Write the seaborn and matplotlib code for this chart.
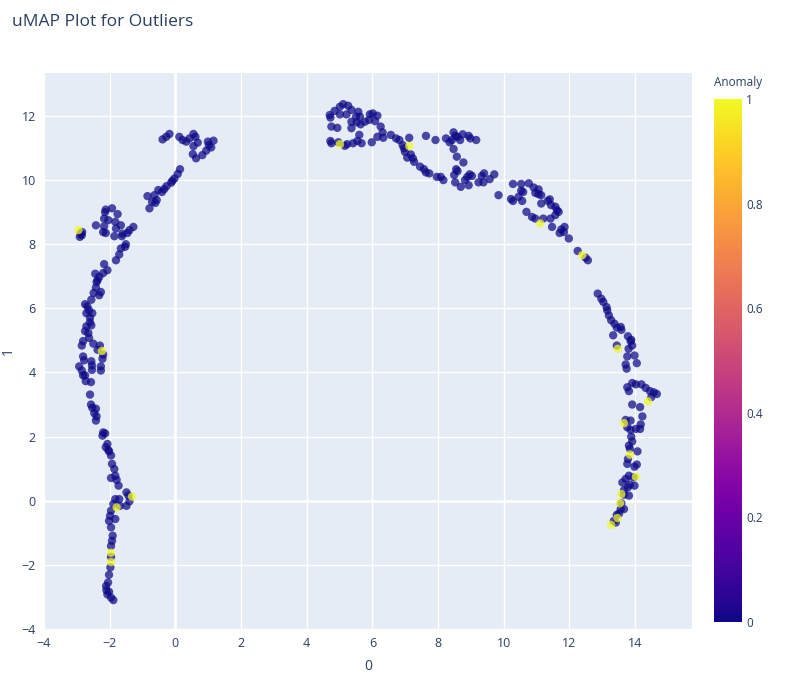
import numpy as np
import pandas as pd
import matplotlib
matplotlib.use("Agg")
import matplotlib.pyplot as plt
import seaborn as sns

sns.set_theme(style="darkgrid")
plt.rcParams['font.family'] = ['Open Sans', 'DejaVu Sans']

# uMAP embedding, normal points (Anomaly = 0)
normal_x = [
    -0.39, -0.28, -0.18, 0.12, 0.22, 0.33, 0.43, 0.55, 0.61, 0.68, 0.55, 0.53, 0.63, 0.82, 0.94, 1.02, 1.09, 1.16, 0.99,
    0.14, 0.07, -0.03, -0.13, -0.27, -0.41, -0.52, -0.64, -0.85, -0.71, -0.57, -0.79, -0.61, -0.34, -0.09,
    -2.12, -1.93, -1.76, -2.17, -2.04, -1.83, -2.42, -2.17, -1.66, -1.28, -1.81, -2.20, -2.12, -1.86, -1.61, -1.40, -1.46, -1.63, -2.14,
    -2.88, -2.85, -2.91, -2.84,
    -1.51, -1.53, -1.66, -1.71, -1.81, -2.17, -2.07, -2.20, -2.44, -2.32, -2.37, -2.42,
    -2.40, -2.49, -2.27, -2.32, -2.56, -2.75, -2.68, -2.63, -2.71, -2.53, -2.60, -2.60, -2.56, -2.71, -2.75, -2.65,
    -2.63, -2.81, -2.85, -2.50, -2.30, -2.37, -2.20, -2.22, -2.81, -2.78, -2.56, -2.54, -2.54, -2.27, -2.27, -2.93,
    -2.85, -2.81, -2.75, -2.73, -2.57, -2.60, -2.57, -2.53, -2.42, -2.47, -2.40, -2.42, -2.20, -2.14, -2.22, -2.07,
    -2.12, -2.04, -2.02, -1.96, -1.93, -1.86, -1.96, -1.83, -1.79, -1.73, -1.49, -1.43, -1.40, -1.49, -1.83, -1.71,
    -1.89, -1.69, -1.96, -1.99, -1.83, -2.02, -1.96, -1.91, -1.93, -1.96, -1.96, -1.98, -2.02, -2.05, -2.10, -2.07,
    -1.96, -1.89, -2.11, -2.02,
    4.70, 4.72, 4.85, 5.01, 5.11, 5.26, 5.36, 5.01, 5.21, 4.75, 4.93, 5.36, 5.36, 5.50, 5.57, 5.62, 5.52, 5.64,
    5.77, 5.90, 6.01, 6.08, 6.15, 5.92, 6.25, 6.31, 6.33, 6.15, 5.98, 5.60, 5.67, 5.54, 5.41, 5.23, 5.16, 4.96,
    4.72, 4.75, 6.56, 6.72, 6.82, 7.12, 6.92, 6.96, 6.99, 7.17, 7.06, 7.23, 7.27, 7.45, 7.57, 7.63, 7.73, 7.96,
    8.08, 8.16, 7.63, 7.92, 8.24, 8.35, 8.42, 8.47, 8.52, 8.59, 8.75, 8.93, 8.98, 9.16, 8.67, 8.47, 8.57, 8.77,
    8.55, 8.59, 8.49, 8.52, 8.69, 8.82, 8.89, 8.96, 9.03, 8.93, 9.23, 9.38, 9.33, 9.40, 9.57, 9.71, 9.84, 10.22,
    10.28, 10.53, 10.76, 10.91, 11.06, 10.96, 11.06, 11.14, 10.53, 10.59, 10.45, 10.28, 10.56, 11.14, 11.40,
    11.34, 11.44, 11.57, 11.62, 11.67, 11.57, 10.69, 10.86, 10.96, 11.20, 11.42, 11.85, 11.75, 11.83, 11.70,
    11.47, 11.98, 12.25, 12.49, 12.56,
    12.86, 12.97, 13.03, 13.13, 13.15, 13.20, 13.27, 13.37, 13.44, 13.56, 13.58, 13.33, 13.78, 13.88, 13.86,
    13.91, 13.80, 13.44, 13.76, 13.98, 13.71, 13.74, 14.05, 13.91, 13.76, 13.81, 14.02, 14.19, 14.32, 14.45,
    14.57, 14.66, 14.49, 13.91, 14.15, 14.22, 13.71, 13.86, 13.76, 13.86, 14.02, 14.15, 14.17, 13.88, 13.91,
    13.81, 13.84, 14.07, 13.78, 13.76, 14.05, 13.98, 13.81, 13.95, 13.71, 13.61, 13.84, 13.98, 13.78, 13.66,
    13.66, 13.81, 13.58, 13.56, 13.66, 13.51, 13.44, 13.41, 13.35,
]
normal_y = [
    11.27, 11.35, 11.44, 11.35, 11.25, 11.20, 11.30, 11.44, 11.35, 11.17, 11.06, 10.81, 10.68, 10.78, 10.92, 11.09, 11.02, 11.23, 11.20,
    10.34, 10.19, 10.05, 9.92, 9.81, 9.63, 9.69, 9.53, 9.50, 9.32, 9.38, 9.12, 9.29, 9.72, 9.98,
    9.08, 9.12, 8.94, 8.80, 8.75, 8.70, 8.59, 8.56, 8.59, 8.54, 8.49, 8.38, 8.35, 8.25, 8.33, 8.44, 8.35, 8.25, 9.00,
    8.33, 8.28, 8.23, 8.38,
    8.00, 7.92, 7.87, 7.68, 7.50, 7.38, 7.19, 7.10, 7.08, 6.98, 6.88, 6.65,
    6.82, 6.48, 6.51, 6.41, 6.27, 6.13, 6.06, 5.94, 5.85, 5.85, 5.71, 5.57, 5.47, 5.44, 5.29, 5.23,
    5.08, 4.98, 4.84, 4.90, 4.84, 4.71, 4.56, 4.43, 4.50, 4.38, 4.35, 4.22, 4.08, 4.19, 4.06, 4.19,
    4.06, 3.91, 3.91, 3.73, 3.70, 3.31, 3.00, 2.90, 2.87, 2.73, 2.63, 2.50, 2.13, 2.10, 2.03, 1.77,
    1.67, 1.58, 1.54, 1.41, 1.15, 0.99, 0.71, 0.78, 0.65, 0.47, 0.26, 0.16, -0.02, -0.16, 0.05, 0.05,
    -0.10, -0.16, -0.31, -0.47, -0.57, -0.63, -0.83, -1.09, -1.25, -1.41, -1.75, -2.08, -2.31, -2.55, -2.79, -2.92,
    -3.02, -3.10, -2.66, -2.84,
    12.03, 11.95, 12.16, 12.29, 12.37, 12.32, 12.19, 12.05, 12.05, 11.67, 11.63, 11.82, 11.62, 11.98, 12.13, 11.98, 11.80, 11.74,
    11.82, 11.88, 12.08, 11.84, 12.01, 12.05, 11.67, 11.49, 11.32, 11.35, 11.18, 11.41, 11.15, 11.22, 11.15, 11.12, 11.07, 11.18,
    11.22, 11.15, 11.41, 11.30, 11.25, 11.32, 11.09, 10.99, 10.88, 10.80, 10.70, 10.68, 10.57, 10.42, 10.34, 10.24, 10.21, 10.10,
    10.10, 10.00, 11.38, 11.25, 11.30, 11.18, 11.25, 11.49, 11.38, 11.35, 11.43, 11.38, 11.30, 11.25, 11.25, 10.97, 10.73, 10.55,
    10.34, 10.28, 10.16, 9.93, 9.79, 10.00, 10.10, 10.18, 10.13, 9.84, 9.93, 9.93, 10.13, 10.21, 10.03, 10.18, 9.53, 9.41,
    9.88, 9.88, 9.90, 9.77, 9.71, 9.60, 9.56, 9.53, 9.67, 9.63, 9.48, 9.35, 9.35, 9.27, 9.40,
    9.35, 9.22, 9.17, 9.06, 9.01, 8.91, 9.01, 8.85, 8.80, 8.80, 8.80, 8.54, 8.46, 8.38, 8.35,
    8.54, 8.18, 7.79, 7.58, 7.50,
    6.46, 6.30, 6.20, 6.04, 5.94, 5.78, 5.63, 5.52, 5.40, 5.42, 5.33, 5.16, 5.13, 5.02, 4.98,
    4.84, 4.74, 4.84, 4.50, 4.53, 4.25, 4.12, 4.29, 3.67, 3.54, 3.42, 3.63, 3.63, 3.52, 3.42,
    3.38, 3.33, 3.23, 3.00, 2.92, 2.63, 2.52, 2.50, 2.29, 2.21, 2.24, 2.24, 2.38, 2.00, 1.85,
    1.72, 1.62, 1.54, 1.30, 1.15, 1.13, 1.06, 0.78, 0.73, 0.68, 0.57, 0.50, 0.47, 0.42, 0.33,
    0.19, 0.16, -0.08, -0.26, -0.26, -0.40, -0.44, -0.68, -0.63,
]

# points flagged as outliers (Anomaly = 1)
outlier_x = [-2.95, -2.24, -1.32, -1.79, -1.96, -1.96, 5.01, 7.12, 11.11, 12.39,
             13.47, 14.39, 13.66, 13.84, 14.02, 13.58, 13.54, 13.46, 13.27]
outlier_y = [8.44, 4.67, 0.13, -0.21, -1.62, -1.91, 11.12, 11.06, 8.65, 7.66,
             4.74, 3.10, 2.42, 1.44, 0.75, 0.21, -0.08, -0.54, -0.75]

df = pd.DataFrame({
    "0": normal_x + outlier_x,
    "1": normal_y + outlier_y,
    "Anomaly": [0] * len(normal_x) + [1] * len(outlier_x),
})

text_color = "#2a3f5f"
fig = plt.figure(figsize=(8.05, 6.78), dpi=100)
ax = fig.add_axes([0.0547, 0.0723, 0.8049, 0.8200])
ax.set_facecolor("#E5ECF6")

sns.scatterplot(data=df, x="0", y="1", hue="Anomaly", palette="plasma",
                hue_norm=(0, 1), s=36, alpha=0.72, linewidth=0,
                legend=False, ax=ax)

ax.set_xlim(-4, 15.73)
ax.set_ylim(-4, 13.34)
ax.set_xticks(np.arange(-4, 15, 2))
ax.set_yticks(np.arange(-4, 13, 2))
ax.set_xticklabels(["\u22124", "\u22122", "0", "2", "4", "6", "8", "10", "12", "14"])
ax.set_yticklabels(["\u22124", "\u22122", "0", "2", "4", "6", "8", "10", "12"])
ax.grid(True, color="white", linewidth=1)
ax.axvline(0, color="white", linewidth=2, zorder=0.5)
ax.axhline(0, color="white", linewidth=2, zorder=0.5)
ax.set_axisbelow(True)
for side in ax.spines.values():
    side.set_visible(False)
ax.tick_params(length=0, labelsize=9, labelcolor=text_color, pad=6)
ax.set_xlabel("0", fontsize=10, color=text_color, labelpad=6)
ax.set_ylabel("1", fontsize=10, color=text_color, labelpad=4)

fig.text(0.015, 0.967, "uMAP Plot for Outliers", fontsize=12.5, color=text_color, va="center")

# colorbar
cax = fig.add_axes([0.887, 0.0826, 0.0348, 0.7714])
sm = plt.cm.ScalarMappable(cmap="plasma", norm=plt.Normalize(0, 1))
cbar = fig.colorbar(sm, cax=cax, ticks=[0, 0.2, 0.4, 0.6, 0.8, 1])
cbar.ax.set_yticklabels(["0", "0.2", "0.4", "0.6", "0.8", "1"])
cbar.outline.set_visible(False)
cbar.ax.tick_params(length=0, labelsize=8.5, labelcolor=text_color, pad=3)
cbar.ax.set_title("Anomaly", fontsize=8.5, color=text_color, pad=9, loc="left")

fig.savefig("out.png", dpi=100, facecolor="white")
